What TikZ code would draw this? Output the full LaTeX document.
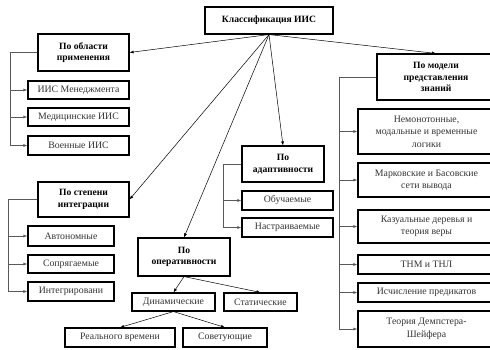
\documentclass[tikz,border=0pt]{standalone}
\usepackage{fontspec}
\setmainfont{Liberation Serif}
\usetikzlibrary{arrows.meta}
\tikzset{
  head/.style={draw, line width=1.1pt, align=center, inner sep=1pt,
    font=\fontsize{9.6}{11.5}\selectfont\bfseries},
  leaf/.style={draw, line width=1.1pt, align=center, inner sep=1pt,
    font=\fontsize{9.8}{12.5}\selectfont, text=black!80},
  link/.style={line width=0.5pt, -{Latex[length=4pt,width=3pt]}},
  branch/.style={draw=black!65, line width=0.6pt, -{Latex[length=4pt,width=3pt]}},
}
\begin{document}
\begin{tikzpicture}[x=1pt,y=-1pt]
                \useasboundingbox (0,0) rectangle (490,349);
                \clip (0,0) rectangle (490,349);

                % Root box
                \node[head, minimum width=128pt, minimum height=27pt] (root) at (269,20.5) {Классификация ИИС};

                % Group: area of use
                \node[head, minimum width=91pt, minimum height=37pt] (area) at (83.5,52.5) {По области\\применения};
                \node[leaf, minimum width=101pt, minimum height=18pt] (m1) at (78.5,90) {ИИС Менеджмента};
                \node[leaf, minimum width=101pt, minimum height=18pt] (m2) at (78.5,117) {Медицинские ИИС};
                \node[leaf, minimum width=101pt, minimum height=19pt] (m3) at (78.5,145.5) {Военные ИИС};

                % Group: knowledge model
                \node[head, minimum width=118pt, minimum height=46pt] (model) at (436,77) {По модели\\представления\\знаний};
                \node[leaf, minimum width=137pt, minimum height=45pt] (k1) at (426.5,131.5) {Немонотонные,\\модальные и временные\\логики};
                \node[leaf, minimum width=137pt, minimum height=34pt] (k2) at (426.5,180) {Марковские и Басовские\\сети вывода};
                \node[leaf, minimum width=137pt, minimum height=33pt] (k3) at (426.5,226.5) {Казуальные деревья и\\теория веры};
                \node[leaf, minimum width=137pt, minimum height=19pt] (k4) at (426.5,264.5) {ТНМ и ТНЛ};
                \node[leaf, minimum width=137pt, minimum height=19pt] (k5) at (426.5,292.5) {Исчисление предикатов};
                \node[leaf, minimum width=137pt, minimum height=36pt] (k6) at (426.5,329) {Теория Демпстера-\\Шейфера};

                % Group: adaptivity
                \node[head, minimum width=82pt, minimum height=36pt] (adapt) at (283,164) {По\\адаптивности};
                \node[leaf, minimum width=91pt, minimum height=19pt] (a1) at (287.5,200.5) {Обучаемые};
                \node[leaf, minimum width=91pt, minimum height=19pt] (a2) at (287.5,227.5) {Настраиваемые};

                % Group: integration
                \node[head, minimum width=91pt, minimum height=35pt] (integ) at (83.5,199.5) {По степени\\интеграции};
                \node[leaf, minimum width=86pt, minimum height=20pt] (i1) at (71,236) {Автономные};
                \node[leaf, minimum width=86pt, minimum height=18pt] (i2) at (71,264) {Сопрягаемые};
                \node[leaf, minimum width=86pt, minimum height=19pt] (i3) at (71,291.5) {Интегрировани};

                % Group: operativeness
                \node[head, minimum width=92pt, minimum height=38pt] (oper) at (184,257) {По\\оперативности};
                \node[leaf, minimum width=83pt, minimum height=18pt] (dyn) at (173.5,302) {Динамические};
                \node[leaf, minimum width=73pt, minimum height=18pt] (stat) at (260.5,302) {Статические};
                \node[leaf, minimum width=110pt, minimum height=19pt] (real) at (120,337.5) {Реального времени};
                \node[leaf, minimum width=84pt, minimum height=19pt] (sov) at (225,337.5) {Советующие};

                % Arrows from root
                \draw[link] (root.south) -- (area.east);
                \draw[link] (root.south) -- (model.north);
                \draw[link] (root.south) -- (adapt.north);
                \draw[link] (root.south) -- (integ.east);
                \draw[link] (root.south) -- (oper.north);

                % Arrows inside operativeness
                \draw[link] (oper.south) -- (dyn.north);
                \draw[link] (oper.south) -- (stat.north);
                \draw[link] (dyn.south) -- (real.north);
                \draw[link] (dyn.south) -- (sov.north);

                % Branch lines
                \foreach \c in {m1,m2,m3}
                  \draw[branch] (area.west) -| ([xshift=-17pt]\c.west) -- (\c.west);
                \foreach \c in {k1,k2,k3,k4,k5,k6}
                  \draw[branch] (model.west) -| ([xshift=-18pt]\c.west) -- (\c.west);
                \foreach \c in {a1,a2}
                  \draw[branch] (adapt.west) -| ([xshift=-18pt]\c.west) -- (\c.west);
                \foreach \c in {i1,i2,i3}
                  \draw[branch] (integ.west) -| ([xshift=-19pt]\c.west) -- (\c.west);
\end{tikzpicture}
\end{document}
